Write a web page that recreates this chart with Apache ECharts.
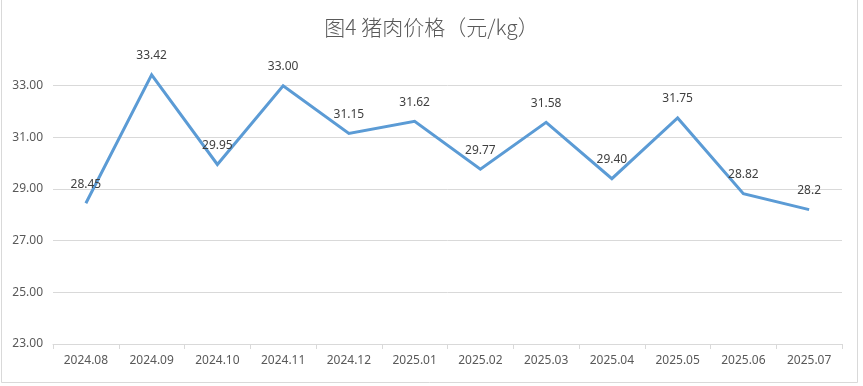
<!DOCTYPE html>
<html>
<head>
<meta charset="utf-8">
<script src="https://cdn.jsdelivr.net/npm/echarts@6/dist/echarts.min.js"></script>
<style>
html,body{margin:0;padding:0;background:#fff;}
#c{width:863px;height:386px;}
</style>
</head>
<body>
<div id="c"></div>
<script>
const titleText = '图4 猪肉价格（元/kg）';
const categories = ['2024.08','2024.09','2024.10','2024.11','2024.12','2025.01','2025.02','2025.03','2025.04','2025.05','2025.06','2025.07'];
const prices = [28.45, 33.42, 29.95, 33.00, 31.15, 31.62, 29.77, 31.58, 29.40, 31.75, 28.82, 28.2];
const priceLabels = ['28.45','33.42','29.95','33.00','31.15','31.62','29.77','31.58','29.40','31.75','28.82','28.2'];

const chart = echarts.init(document.getElementById('c'));
const font = '"Noto Sans", "Noto Sans CJK SC", sans-serif';
chart.setOption({
  animation: false,
  backgroundColor: '#fff',
  textStyle: {fontFamily: font},
  title: {
    text: titleText,
    left: 'center',
    top: 12,
    textStyle: {fontFamily: '"Noto Sans CJK SC", sans-serif', fontSize: 21, fontWeight: 300, color: '#595959'}
  },
  graphic: [{
    type: 'polyline',
    shape: {points: [[1.5, -2], [1.5, 382.5], [857.5, 382.5], [857.5, -2]]},
    style: {stroke: '#d9d9d9', fill: null, lineWidth: 1},
    silent: true
  }],
  grid: {left: 53, right: 21, top: 34, bottom: 42},
  xAxis: {
    type: 'category',
    data: categories,
    boundaryGap: true,
    axisLine: {lineStyle: {color: '#d9d9d9', width: 1}},
    axisTick: {show: true, length: 5, lineStyle: {color: '#d9d9d9'}},
    axisLabel: {color: '#595959', fontSize: 12, margin: 11, fontFamily: font}
  },
  yAxis: {
    type: 'value',
    min: 23,
    max: 35,
    interval: 2,
    axisLine: {show: false},
    axisTick: {show: false},
    axisLabel: {
      color: '#595959', fontSize: 12, margin: 10, fontFamily: font,
      showMaxLabel: false,
      formatter: v => v.toFixed(2)
    },
    splitLine: {lineStyle: {color: ['#d9d9d9','#d9d9d9','#d9d9d9','#d9d9d9','#d9d9d9','#d9d9d9','rgba(0,0,0,0)'], width: 1}}
  },
  series: [{
    type: 'line',
    data: prices,
    symbol: 'circle',
    symbolSize: 0,
    showSymbol: true,
    lineStyle: {color: '#5b9bd5', width: 3, join: 'miter'},
    itemStyle: {color: '#5b9bd5'},
    label: {
      show: true,
      position: 'top',
      distance: 13,
      color: '#404040',
      fontSize: 12,
      fontFamily: font,
      formatter: p => priceLabels[p.dataIndex]
    },
    labelLayout: {hideOverlap: false}
  }]
});
</script>
</body>
</html>
